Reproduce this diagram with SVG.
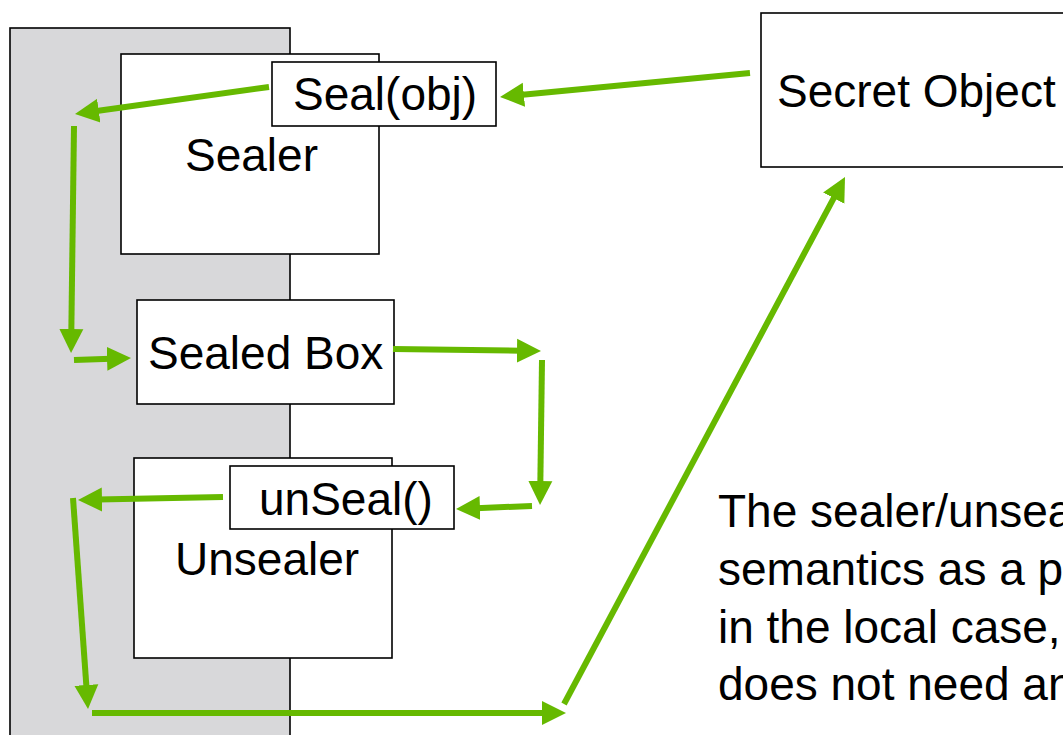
<svg xmlns="http://www.w3.org/2000/svg" width="1063" height="735" viewBox="0 0 1063 735">
<style>
.box{fill:#ffffff;stroke:#000000;stroke-width:1.6}
.t{font-family:"Liberation Sans",Arial,sans-serif;font-size:46px;fill:#000000}
.c{fill:none;stroke:#66b900;stroke-width:6;stroke-linecap:butt;marker-end:url(#ah)}
</style>
<defs>
<marker id="ah" markerUnits="userSpaceOnUse" markerWidth="26" markerHeight="26" viewBox="0 -13 26 26" refX="4" refY="0" orient="auto">
<path d="M0,-12 L24,0 L0,12 Z" fill="#66b900"/>
</marker>
</defs>
<rect width="1063" height="735" fill="#ffffff"/>
<g id="vat">
<rect x="10" y="28" width="280" height="720" fill="#d8d8da" stroke="#000000" stroke-width="1.6"/>
</g>
<g id="sealer">
<rect class="box" x="121" y="54" width="258" height="200"/>
<text class="t" x="185" y="171">Sealer</text>
</g>
<g id="seal-obj">
<rect class="box" x="272" y="62" width="224" height="64"/>
<text class="t" x="293" y="110">Seal(obj)</text>
</g>
<g id="sealed-box">
<rect class="box" x="137" y="300" width="257" height="104"/>
<text class="t" x="148" y="369">Sealed Box</text>
</g>
<g id="unsealer">
<rect class="box" x="134" y="458" width="258" height="200"/>
<text class="t" x="175" y="575">Unsealer</text>
</g>
<g id="unseal">
<rect class="box" x="230" y="466" width="224" height="63"/>
<text class="t" x="259" y="515">unSeal()</text>
</g>
<g id="secret-object">
<rect class="box" x="761" y="13" width="320" height="154"/>
<text class="t" x="777" y="107">Secret Object</text>
</g>
<g id="note">
<text class="t" x="718" y="527">The sealer/unseal</text>
<text class="t" x="718" y="585">semantics as a p</text>
<text class="t" x="718" y="643">in the local case,</text>
<text class="t" x="718" y="700">does not need an</text>
</g>
<g id="connectors">
<line class="c" x1="750" y1="73" x2="519.9" y2="95.1"/>
<line class="c" x1="269" y1="87" x2="94.8" y2="111.2"/>
<line class="c" x1="74" y1="126" x2="71.3" y2="333"/>
<line class="c" x1="74" y1="360" x2="111" y2="358.7"/>
<line class="c" x1="393" y1="349" x2="521" y2="350.7"/>
<line class="c" x1="542" y1="360" x2="540.3" y2="485"/>
<line class="c" x1="532" y1="506" x2="476" y2="508.2"/>
<line class="c" x1="223" y1="497" x2="98" y2="499.6"/>
<line class="c" x1="73" y1="498" x2="86.6" y2="689"/>
<line class="c" x1="92" y1="713" x2="546" y2="713"/>
<line class="c" x1="564" y1="704" x2="835.6" y2="194.6"/>
</g>
</svg>
